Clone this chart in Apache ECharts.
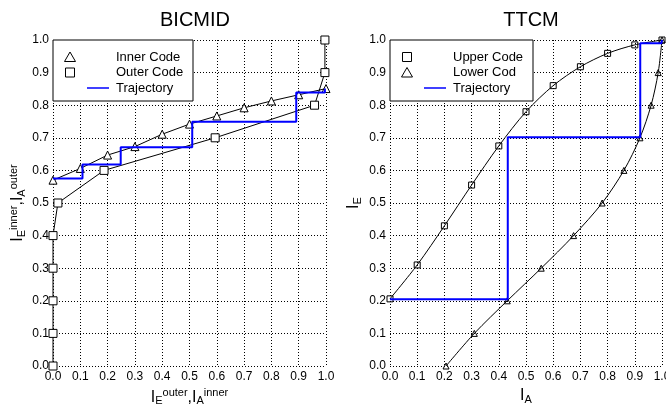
<!DOCTYPE html>
<html>
<head>
<meta charset="utf-8">
<script src="https://cdn.jsdelivr.net/npm/echarts@6/dist/echarts.min.js"></script>
<style>
html, body { margin: 0; padding: 0; background: #fff; }
#chart { width: 666px; height: 407px; }
</style>
</head>
<body>
<div id="chart"></div>
<script>
// BICMID (left panel)
var bicmidInnerX = [0, 0.1, 0.2, 0.3, 0.4, 0.5, 0.6, 0.7, 0.8, 0.9, 1.0];
var bicmidInnerY = [0.570, 0.606, 0.647, 0.673, 0.711, 0.742, 0.767, 0.792, 0.813, 0.832, 0.851];
var bicmidOuterX = [0, 0, 0, 0, 0, 0.018, 0.187, 0.594, 0.958, 0.996, 0.996];
var bicmidOuterY = [0, 0.1, 0.2, 0.3, 0.4, 0.5, 0.6, 0.7, 0.8, 0.9, 1.0];
var bicmidTrajX = [0, 0.108, 0.108, 0.248, 0.248, 0.51, 0.51, 0.891, 0.891, 0.996, 0.996];
var bicmidTrajY = [0.575, 0.575, 0.618, 0.618, 0.671, 0.671, 0.749, 0.749, 0.839, 0.839, 0.851];

// TTCM (right panel)
var ttcmUpperX = [0, 0.1, 0.2, 0.3, 0.4, 0.5, 0.6, 0.7, 0.8, 0.9, 1.0];
var ttcmUpperY = [0.206, 0.31, 0.43, 0.555, 0.675, 0.78, 0.86, 0.918, 0.959, 0.985, 1.0];
var ttcmLowerX = [0.206, 0.31, 0.431, 0.556, 0.675, 0.78, 0.86, 0.919, 0.96, 0.986, 1.0];
var ttcmLowerY = [0, 0.1, 0.2, 0.3, 0.4, 0.5, 0.6, 0.7, 0.8, 0.9, 1.0];
var ttcmTrajX = [0, 0.433, 0.433, 0.92, 0.92, 0.998, 1.0];
var ttcmTrajY = [0.205, 0.205, 0.702, 0.702, 0.99, 0.99, 1.0];

var tickStep = 0.1;
var FONT = '"Liberation Sans", Arial, Helvetica, sans-serif';

function pairs(xs, ys) {
	var out = [];
	for (var i = 0; i < xs.length; i++) {
		out.push([xs[i], ys[i]]);
	}
	return out;
}

var nameRich = {
	i: { fontSize: 16, fontFamily: FONT, color: '#000' },
	sub: { fontSize: 11, fontFamily: FONT, color: '#000', verticalAlign: 'bottom', padding: [8, 0, 0, 0] },
	sup: { fontSize: 11, fontFamily: FONT, color: '#000', verticalAlign: 'top', padding: [0, 0, 8, 0] }
};

function valueAxis(idx, name, gap, rotate, margin) {
	return {
		type: 'value',
		gridIndex: idx,
		min: 0,
		max: 1,
		interval: tickStep,
		name: name,
		nameLocation: 'middle',
		nameGap: gap,
		nameRotate: rotate,
		nameTextStyle: { rich: nameRich },
		axisLine: { show: false },
		axisTick: { show: false },
		axisLabel: {
			margin: margin,
			color: '#000',
			fontSize: 12,
			fontFamily: FONT,
			formatter: function (v) { return v.toFixed(1); }
		},
		splitLine: {
			show: true,
			showMinLine: true,
			showMaxLine: true,
			lineStyle: { color: '#000', width: 1, type: [1, 2] }
		}
	};
}

function curve(idx, name, data, symbol, size, fill, smooth) {
	return {
		type: 'line',
		name: name,
		xAxisIndex: idx,
		yAxisIndex: idx,
		data: data,
		symbol: symbol,
		symbolSize: size,
		showAllSymbol: true,
		smooth: smooth,
		lineStyle: { color: '#000', width: 1 },
		itemStyle: { color: fill, borderColor: '#000', borderWidth: 1 },
		animation: false,
		z: 3
	};
}

function traj(idx, data) {
	return {
		type: 'line',
		name: 'Trajectory',
		xAxisIndex: idx,
		yAxisIndex: idx,
		data: data,
		symbol: 'none',
		lineStyle: { color: '#0000ff', width: 2 },
		animation: false,
		z: 4
	};
}

// 图例（用 graphic 画，方便控制位置）
function legendBox(x, y, w, h, items) {
	var els = [{
		type: 'rect',
		shape: { x: x, y: y, width: w, height: h },
		style: { fill: '#fff', stroke: '#000', lineWidth: 1 },
		z: 10
	}];
	items.forEach(function (it, k) {
		var cy = y + 17 + k * 15.5;
		var sx = x + 17;
		if (it.kind === 'triangle') {
			els.push({
				type: 'polygon',
				shape: { points: [[sx, cy - 5], [sx - 5.5, cy + 4.5], [sx + 5.5, cy + 4.5]] },
				style: { fill: 'none', stroke: '#000', lineWidth: 1 },
				z: 11
			});
		} else if (it.kind === 'square') {
			els.push({
				type: 'rect',
				shape: { x: sx - 4.5, y: cy - 4.5, width: 9, height: 9 },
				style: { fill: 'none', stroke: '#000', lineWidth: 1 },
				z: 11
			});
		} else {
			els.push({
				type: 'line',
				shape: { x1: x + 34, y1: cy, x2: x + 56, y2: cy },
				style: { stroke: '#0000ff', lineWidth: 1.5 },
				z: 11
			});
		}
		els.push({
			type: 'text',
			x: x + 63,
			y: cy,
			style: { text: it.label, fill: '#000', font: '13px ' + FONT, textVerticalAlign: 'middle' },
			z: 11
		});
	});
	return els;
}

var myChart = echarts.init(document.getElementById('chart'));
myChart.setOption({
	animation: false,
	title: [
		{ text: 'BICMID', left: 190, top: 5, textAlign: 'center', textStyle: { fontSize: 20, fontWeight: 'normal', fontFamily: FONT, color: '#000' } },
		{ text: 'TTCM', left: 526, top: 5, textAlign: 'center', textStyle: { fontSize: 20, fontWeight: 'normal', fontFamily: FONT, color: '#000' } }
	],
	grid: [
		{ left: 53, right: 340, top: 40, bottom: 41, outerBoundsMode: 'none' },
		{ left: 390, right: 4, top: 40, bottom: 41, outerBoundsMode: 'none' }
	],
	xAxis: [
		valueAxis(0, '{i|I}{sub|E}{sup|outer}{i|,I}{sub|A}{sup|inner}', 18, 0, 5),
		valueAxis(1, '{i|I}{sub|A}', 18, 0, 5)
	],
	yAxis: [
		valueAxis(0, '{i|I}{sub|E}{sup|inner}{i|,I}{sub|A}{sup|outer}', 26, 90, 4),
		valueAxis(1, '{i|I}{sub|E}', 27, 90, 4)
	],
	series: [
		curve(0, 'Inner Code', pairs(bicmidInnerX, bicmidInnerY), 'triangle', 8, '#fff', false),
		curve(0, 'Outer Code', pairs(bicmidOuterX, bicmidOuterY), 'rect', 8, '#fff', false),
		traj(0, pairs(bicmidTrajX, bicmidTrajY)),
		curve(1, 'Upper Code', pairs(ttcmUpperX, ttcmUpperY), 'rect', 6, 'rgba(0,0,0,0)', 0.3),
		curve(1, 'Lower Cod', pairs(ttcmLowerX, ttcmLowerY), 'triangle', 6, 'rgba(0,0,0,0)', 0.3),
		traj(1, pairs(ttcmTrajX, ttcmTrajY))
	],
	graphic: legendBox(53, 40, 140, 61, [
		{ kind: 'triangle', label: 'Inner Code' },
		{ kind: 'square', label: 'Outer Code' },
		{ kind: 'line', label: 'Trajectory' }
	]).concat(legendBox(390, 40, 143, 61, [
		{ kind: 'square', label: 'Upper Code' },
		{ kind: 'triangle', label: 'Lower Cod' },
		{ kind: 'line', label: 'Trajectory' }
	]))
});
</script>
</body>
</html>
